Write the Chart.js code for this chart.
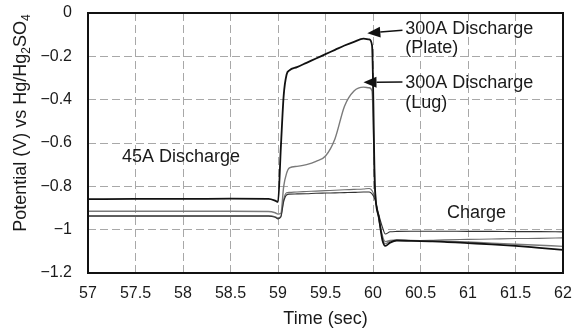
<!DOCTYPE html>
<html lang="en">
<head>
<meta charset="UTF-8">
<title>Potential vs time</title>
<style>
  html, body { margin: 0; padding: 0; background: #fff; }
  .chart-wrapper { width: 574px; height: 330px; }
</style>
<script src="https://cdn.jsdelivr.net/npm/chart.js@4.4.0/dist/chart.umd.min.js"></script>
</head>
<body>
<div class="chart-wrapper"><canvas id="potential-chart" width="574" height="330"></canvas></div>
<script>
// time (sec), shared by all four traces
let timeSec = [57, 57.5, 58, 58.5, 58.9, 58.97, 59.0, 59.03, 59.06, 59.09, 59.12, 59.2, 59.3, 59.4, 59.5,
  59.6, 59.7, 59.8, 59.9, 59.96, 59.99, 60.02, 60.06, 60.1, 60.13, 60.18, 60.25, 60.4, 60.6, 60.75,
  61, 61.25, 61.5, 61.75, 62];

// 300A discharge, plate (black)
let plateV = [-0.859, -0.858, -0.858, -0.857, -0.858, -0.866, -0.872, -0.62, -0.38, -0.285, -0.265, -0.25, -0.23, -0.21, -0.19,
  -0.17, -0.15, -0.133, -0.118, -0.122, -0.15, -0.80, -0.94, -1.05, -1.075, -1.06, -1.05, -1.052, -1.054, -1.056,
  -1.062, -1.068, -1.075, -1.084, -1.093];

// 300A discharge, lug (grey)
let lugV = [-0.915, -0.915, -0.915, -0.915, -0.916, -0.922, -0.928, -0.925, -0.80, -0.74, -0.715, -0.708, -0.70, -0.685, -0.66,
  -0.58, -0.43, -0.36, -0.342, -0.345, -0.36, -0.80, -0.94, -1.03, -1.055, -1.05, -1.048, -1.05, -1.051, -1.053,
  -1.057, -1.062, -1.067, -1.072, -1.077];

// the two other traces
let traceC = [-0.938, -0.938, -0.938, -0.938, -0.938, -0.943, -0.95, -0.942, -0.87, -0.84, -0.836, -0.835, -0.834, -0.832, -0.831,
  -0.83, -0.829, -0.828, -0.826, -0.826, -0.835, -0.86, -0.93, -0.99, -1.02, -1.01, -1.008, -1.007, -1.007, -1.007,
  -1.008, -1.008, -1.009, -1.009, -1.01];
let traceD = [-0.935, -0.935, -0.935, -0.935, -0.935, -0.94, -0.946, -0.938, -0.86, -0.83, -0.828, -0.826, -0.824, -0.822, -0.82,
  -0.818, -0.816, -0.814, -0.812, -0.81, -0.82, -0.85, -0.95, -1.04, -1.065, -1.052, -1.05, -1.05, -1.049, -1.047,
  -1.045, -1.043, -1.041, -1.04, -1.038];

let xTicks = [57, 57.5, 58, 58.5, 59, 59.5, 60, 60.5, 61, 61.5, 62];
let yTicks = [0, -0.2, -0.4, -0.6, -0.8, -1, -1.2];

let pts = (vals) => vals.map((v, i) => ({ x: timeSec[i], y: v }));
let fmt = (v) => (v < 0 ? '\u2212' + String(Math.abs(v)) : String(v));

const FONT = 'Liberation Sans, Arial, Helvetica, sans-serif';

function arrow(ctx, x1, y1, x2, y2) {
  const ang = Math.atan2(y2 - y1, x2 - x1);
  const len = 13, half = 5.5;
  const bx = x2 - len * Math.cos(ang), by = y2 - len * Math.sin(ang);
  ctx.beginPath();
  ctx.moveTo(x1, y1);
  ctx.lineTo(bx, by);
  ctx.stroke();
  ctx.beginPath();
  ctx.moveTo(x2, y2);
  ctx.lineTo(bx + half * Math.sin(ang), by - half * Math.cos(ang));
  ctx.lineTo(bx - half * Math.sin(ang), by + half * Math.cos(ang));
  ctx.closePath();
  ctx.fill();
}

// y title with real subscripts, drawn rotated
function yTitle(ctx, cx, cy) {
  const big = '18px ' + FONT, small = '12px ' + FONT;
  const parts = [['Potential (V) vs Hg/Hg', big, 0], ['2', small, 4], ['SO', big, 0], ['4', small, 4]];
  let total = 0;
  parts.forEach(p => { ctx.font = p[1]; total += ctx.measureText(p[0]).width; });
  ctx.save();
  ctx.translate(cx, cy);
  ctx.rotate(-Math.PI / 2);
  ctx.textAlign = 'left';
  ctx.textBaseline = 'alphabetic';
  let px = -total / 2;
  parts.forEach(p => {
    ctx.font = p[1];
    ctx.fillText(p[0], px, 6 + p[2]);
    px += ctx.measureText(p[0]).width;
  });
  ctx.restore();
}

// frame + text labels + arrows
const decorations = {
  id: 'decorations',
  afterDraw(chart) {
    const { ctx, chartArea: a, scales: { x, y } } = chart;
    ctx.save();
    ctx.strokeStyle = '#111';
    ctx.lineWidth = 2;
    ctx.strokeRect(a.left, a.top, a.right - a.left, a.bottom - a.top);

    ctx.fillStyle = '#1a1a1a';
    yTitle(ctx, 20, 123);

    ctx.font = '18px ' + FONT;
    ctx.textBaseline = 'middle';
    ctx.textAlign = 'center';
    ctx.fillText('45A Discharge', x.getPixelForValue(57.98), y.getPixelForValue(-0.667));
    ctx.fillText('Charge', x.getPixelForValue(61.09), y.getPixelForValue(-0.921));

    ctx.textAlign = 'left';
    const tx = x.getPixelForValue(60.34);
    ctx.fillText('300A Discharge', tx, y.getPixelForValue(-0.074));
    ctx.fillText('(Plate)', tx, y.getPixelForValue(-0.160));
    ctx.fillText('300A Discharge', tx, y.getPixelForValue(-0.324));
    ctx.fillText('(Lug)', tx, y.getPixelForValue(-0.414));

    ctx.strokeStyle = '#111';
    ctx.fillStyle = '#111';
    ctx.lineWidth = 1.5;
    arrow(ctx, x.getPixelForValue(60.31), y.getPixelForValue(-0.08), x.getPixelForValue(59.94), y.getPixelForValue(-0.093));
    arrow(ctx, x.getPixelForValue(60.31), y.getPixelForValue(-0.318), x.getPixelForValue(59.9), y.getPixelForValue(-0.32));
    ctx.restore();
  }
};

const line = (data, color, width) => ({
  data: pts(data),
  borderColor: color,
  borderWidth: width,
  pointRadius: 0,
  fill: false,
  cubicInterpolationMode: 'monotone'
});

new Chart(document.getElementById('potential-chart').getContext('2d'), {
  type: 'line',
  data: {
    datasets: [
      line(plateV, '#111111', 1.8),
      line(traceC, '#333333', 1.1),
      line(traceD, '#6f6f6f', 1.1),
      line(lugV, '#7a7a7a', 1.4)
    ]
  },
  plugins: [decorations],
  options: {
    responsive: false,
    animation: false,
    devicePixelRatio: 1,
    layout: { autoPadding: false, padding: { left: 9, right: 11, top: 13, bottom: 0 } },
    plugins: { legend: { display: false }, tooltip: { enabled: false } },
    scales: {
      x: {
        type: 'linear', min: 57, max: 62,
        afterBuildTicks: (s) => { s.ticks = xTicks.map(v => ({ value: v })); },
        afterFit: (s) => { s.height = 57; s.paddingLeft = 0; s.paddingRight = 0; },
        grid: { color: '#a8a8a8', lineWidth: 1, drawTicks: false },
        border: { display: false, dash: [8, 4] },
        ticks: { color: '#1a1a1a', padding: 11, maxRotation: 0, autoSkip: false, callback: (v) => String(v), font: { family: FONT, size: 16 } },
        title: { display: true, text: 'Time (sec)', color: '#1a1a1a', font: { family: FONT, size: 18 }, padding: 0 }
      },
      y: {
        type: 'linear', min: -1.2, max: 0,
        afterBuildTicks: (s) => { s.ticks = yTicks.map(v => ({ value: v })); },
        afterFit: (s) => { s.width = 79; s.paddingTop = 0; s.paddingBottom = 0; },
        grid: { color: '#a8a8a8', lineWidth: 1, drawTicks: false },
        border: { display: false, dash: [8, 4] },
        ticks: { color: '#1a1a1a', padding: 16, autoSkip: false, callback: fmt, font: { family: FONT, size: 16 } },
        title: { display: false }
      }
    }
  }
});
</script>
</body>
</html>
